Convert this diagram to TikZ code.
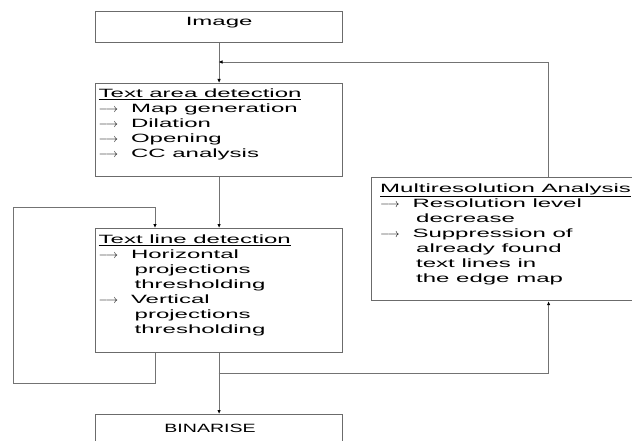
\documentclass[tikz,border=0pt]{standalone}
\usepackage{fontspec}
\setmainfont[FakeStretch=2.0]{Liberation Sans}
\usepackage{tikz}
\usetikzlibrary{arrows.meta}
\definecolor{boxgray}{gray}{0.42}
\definecolor{linegray}{gray}{0.45}
\newcommand{\itemarrow}{\(\longrightarrow\)\hspace{13pt}}
\newcommand{\itemcont}{\hspace{36pt}}

\begin{document}
\begin{tikzpicture}[x=1pt,y=-1pt,font=\fontsize{12}{15}\selectfont]
\useasboundingbox (0,0) rectangle (632,441);
\begin{scope}[every node/.style={rectangle,draw=boxgray,line width=1.2pt,inner sep=0pt,anchor=north west}]
    \node[minimum width=247pt,text height=14pt,text depth=17pt] (image) at (95,11) {Image};
    \node[minimum width=247pt,minimum height=93pt] (area) at (95,83) {};
    \node[minimum width=247pt,minimum height=124pt] (tline) at (95,228) {};
    \node[minimum width=354pt,minimum height=123pt] (multi) at (371,177) {};
    \node[minimum width=247pt,text height=18pt,text depth=22pt] (binar) at (95,414)
        {\hspace*{-18pt}\addfontfeature{FakeStretch=1.63}BINARISE};
\end{scope}
\begin{scope}[every node/.style={align=left,inner sep=0pt,anchor=north west}]
    \node (areatxt) at ([shift={(3.5,5.5)}]area.north west)
        {\underline{Text area detection}\\
         \itemarrow Map generation\\
         \itemarrow Dilation\\
         \itemarrow Opening\\
         \itemarrow CC analysis};
    \node (tlinetxt) at ([shift={(3.5,6.3)}]tline.north west)
        {\underline{Text line detection}\\
         \itemarrow Horizontal\\
         \itemcont projections\\
         \itemcont thresholding\\
         \itemarrow Vertical\\
         \itemcont projections\\
         \itemcont thresholding};
    \node (multitxt) at ([shift={(9,6.3)}]multi.north west)
        {\underline{Multiresolution Analysis}\\
         \itemarrow Resolution level\\
         \itemcont decrease\\
         \itemarrow Suppression of\\
         \itemcont already found\\
         \itemcont text lines in\\
         \itemcont the edge map};
\end{scope}

\coordinate (join) at (218.5,62);
\coordinate (split) at (218.5,373);
\coordinate (loopbot) at (13,383);
\coordinate (looptop) at (13,207);

\begin{scope}[>={Latex[black,length=4pt,width=3.5pt]},
              every edge/.style={draw=linegray,line width=0.9pt}]
    \path [->] (image) edge (area);
    \path [->] (area) edge (tline);
    \path [->] (tline) edge (binar);
\end{scope}

\begin{scope}[>={Latex[black,length=4pt,width=3.5pt]},
              line width=0.9pt,draw=linegray]
    \draw [->] (multi.north) |- (join);
    \draw [->] (split) -| (multi.south);
    \draw [->] ([xshift=60pt]tline.south west) |- (loopbot)
        -- (looptop) -| ([xshift=60pt]tline.north west);
\end{scope}

\end{tikzpicture}
\end{document}
